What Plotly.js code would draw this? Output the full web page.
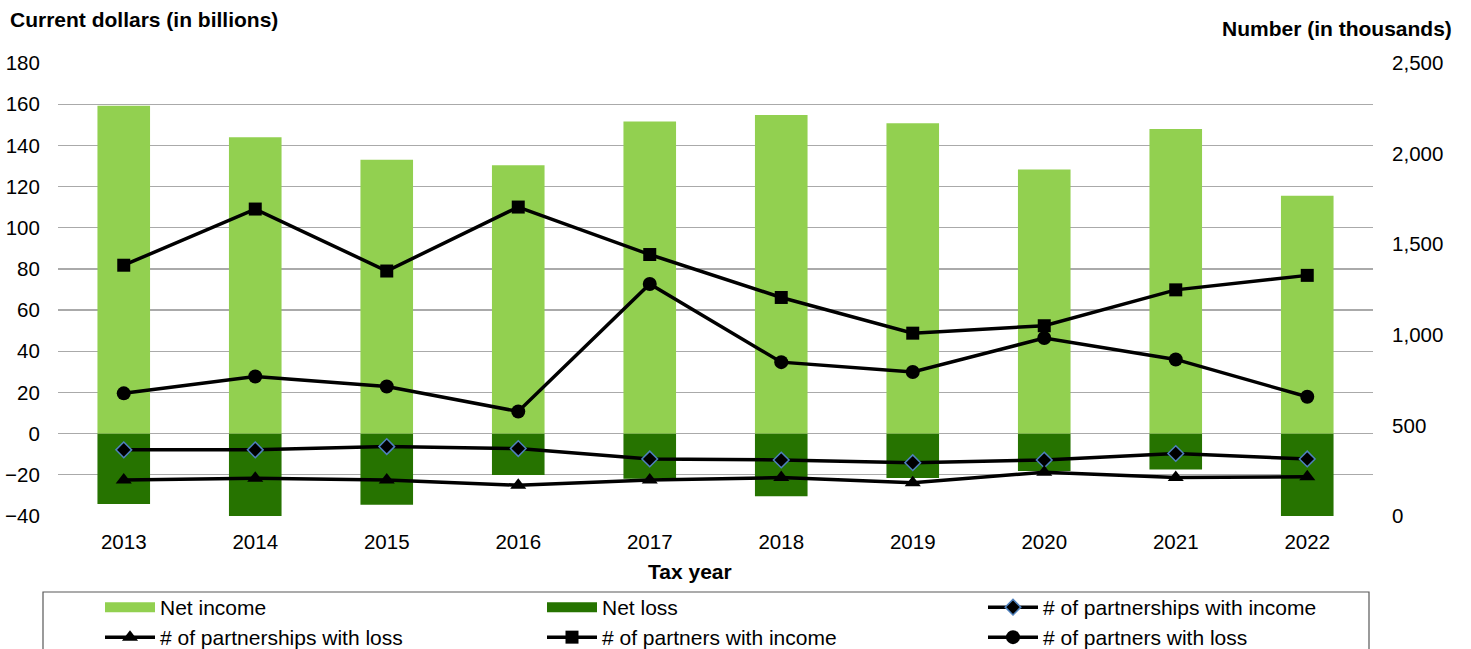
<!DOCTYPE html>
<html>
<head>
<meta charset="utf-8">
<script src="https://cdn.plot.ly/plotly-3.0.1.min.js"></script>
<style>html,body{margin:0;padding:0;background:#fff;}#chart{width:1471px;height:649px;}</style>
</head>
<body>
<div id="chart"></div>
<script>
const years = ['2013','2014','2015','2016','2017','2018','2019','2020','2021','2022'];
const netIncome = [159.2, 144.0, 133.0, 130.4, 151.6, 154.7, 150.8, 128.3, 147.9, 115.5];
const netLoss = [-34.2, -40.6, -34.5, -20.1, -21.9, -30.4, -21.5, -18.2, -17.4, -41.1];
const partnershipsIncome = [365, 365, 383, 372, 315, 309, 294, 309, 345, 315];
const partnershipsLoss = [198, 209, 198, 170, 198, 212, 183, 242, 212, 216];
const partnersIncome = [1384, 1694, 1352, 1705, 1443, 1206, 1009, 1050, 1248, 1328];
const partnersLoss = [677, 770, 715, 577, 1280, 849, 795, 982, 864, 658];

const FONT = '"Liberation Sans", Arial, Helvetica, sans-serif';
const TICK = 20.5;
const lineStyle = {color: '#000000', width: 3.5};
const GREEN_LIGHT = '#92d050';
const GREEN_DARK = '#267300';

const traces = [
  {type: 'bar', name: 'Net income', x: years, y: netIncome, width: 0.4, showlegend: false,
   marker: {color: GREEN_LIGHT, line: {width: 0}}, yaxis: 'y', xaxis: 'x'},
  {type: 'bar', name: 'Net loss', x: years, y: netLoss, width: 0.4, showlegend: false,
   marker: {color: GREEN_DARK, line: {width: 0}}, yaxis: 'y', xaxis: 'x'},
  // legend proxies for the bars (wide swatch like the reference)
  {type: 'scatter', mode: 'lines', name: 'Net income', x: [null], y: [null], legend: 'legend',
   line: {color: GREEN_LIGHT, width: 10}, yaxis: 'y', xaxis: 'x'},
  {type: 'scatter', mode: 'lines', name: 'Net loss', x: [null], y: [null], legend: 'legend2',
   line: {color: GREEN_DARK, width: 10}, yaxis: 'y', xaxis: 'x'},
  {type: 'scatter', mode: 'lines+markers', name: '# of partnerships with income', x: years, y: partnershipsIncome,
   yaxis: 'y2', xaxis: 'x', line: lineStyle, legend: 'legend3',
   marker: {symbol: 'diamond', size: 12, color: '#000000', line: {color: '#4f81bd', width: 1.5}}},
  {type: 'scatter', mode: 'lines+markers', name: '# of partnerships with loss', x: years, y: partnershipsLoss,
   yaxis: 'y2', xaxis: 'x', line: lineStyle, legend: 'legend4',
   marker: {symbol: 'triangle-up', size: 14, color: '#000000'}},
  {type: 'scatter', mode: 'lines+markers', name: '# of partners with income', x: years, y: partnersIncome,
   yaxis: 'y2', xaxis: 'x', line: lineStyle, legend: 'legend5',
   marker: {symbol: 'square', size: 13, color: '#000000'}},
  {type: 'scatter', mode: 'lines+markers', name: '# of partners with loss', x: years, y: partnersLoss,
   yaxis: 'y2', xaxis: 'x', line: lineStyle, legend: 'legend6',
   marker: {symbol: 'circle', size: 14, color: '#000000'}}
];

const colX = [42 / 1315, 484 / 1315, 925 / 1315];
const rowY = [-71 / 453, -101 / 453];
function legendAt(col, row) {
  return {
    orientation: 'h', x: colX[col], xanchor: 'left', y: rowY[row], yanchor: 'top',
    itemwidth: 50,
    font: {family: FONT, size: 21, color: '#000000'},
    bgcolor: 'rgba(0,0,0,0)', borderwidth: 0
  };
}

const layout = {
  width: 1471, height: 649,
  margin: {l: 58, r: 98, t: 63, b: 133, pad: 0, autoexpand: false},
  paper_bgcolor: '#ffffff', plot_bgcolor: '#ffffff',
  font: {family: FONT, size: TICK, color: '#000000'},
  barmode: 'relative',
  showlegend: true,
  xaxis: {
    type: 'category', range: [-0.5, 9.5], showgrid: false, zeroline: false, showline: false,
    ticks: 'outside', ticklen: 7, tickcolor: 'rgba(0,0,0,0)',
    tickfont: {family: FONT, size: TICK, color: '#000000'}, fixedrange: true
  },
  xaxis2: {
    overlaying: 'x', anchor: 'free', position: 40 / 220, range: [-0.5, 9.5],
    tick0: -0.5, dtick: 1, ticks: 'outside', ticklen: 6, tickcolor: '#8c8c8c', tickwidth: 1.3,
    showline: true, linecolor: '#8c8c8c', linewidth: 1.5,
    showticklabels: false, showgrid: false, zeroline: false, fixedrange: true
  },
  yaxis: {
    range: [-40, 180], dtick: 20, tick0: 0,
    showgrid: true, gridcolor: '#aaaaaa', gridwidth: 1.3,
    zeroline: false, showline: false,
    ticks: 'outside', ticklen: 13, tickcolor: 'rgba(0,0,0,0)',
    tickfont: {family: FONT, size: TICK, color: '#000000'}, fixedrange: true
  },
  yaxis2: {
    overlaying: 'y', side: 'right', range: [0, 2500], dtick: 500, tick0: 0,
    tickformat: ',d', showgrid: false, zeroline: false, showline: false,
    ticks: 'outside', ticklen: 14, tickcolor: 'rgba(0,0,0,0)',
    tickfont: {family: FONT, size: TICK, color: '#000000'}, fixedrange: true
  },
  legend: legendAt(0, 0),
  legend2: legendAt(1, 0),
  legend3: legendAt(2, 0),
  legend4: legendAt(0, 1),
  legend5: legendAt(1, 1),
  legend6: legendAt(2, 1),
  shapes: [
    {type: 'rect', xref: 'paper', yref: 'paper', x0: -15 / 1315, x1: 1311 / 1315,
     y0: -0.4, y1: -76 / 453, line: {color: '#595959', width: 1.2}, fillcolor: 'rgba(0,0,0,0)', layer: 'below'}
  ],
  annotations: [
    {text: '<b>Current dollars (in billions)</b>', xref: 'paper', yref: 'paper',
     x: -50 / 1315, y: 496 / 453, xanchor: 'left', yanchor: 'middle', showarrow: false,
     font: {family: FONT, size: 21, color: '#000000'}},
    {text: '<b>Number (in thousands)</b>', xref: 'paper', yref: 'paper',
     x: 1396 / 1315, y: 488 / 453, xanchor: 'right', yanchor: 'middle', showarrow: false,
     font: {family: FONT, size: 21, color: '#000000'}},
    {text: '<b>Tax year</b>', xref: 'paper', yref: 'paper',
     x: 632 / 1315, y: -55 / 453, xanchor: 'center', yanchor: 'middle', showarrow: false,
     font: {family: FONT, size: 21, color: '#000000'}}
  ]
};

Plotly.newPlot('chart', traces, layout, {displayModeBar: false, staticPlot: true});
</script>
</body>
</html>
